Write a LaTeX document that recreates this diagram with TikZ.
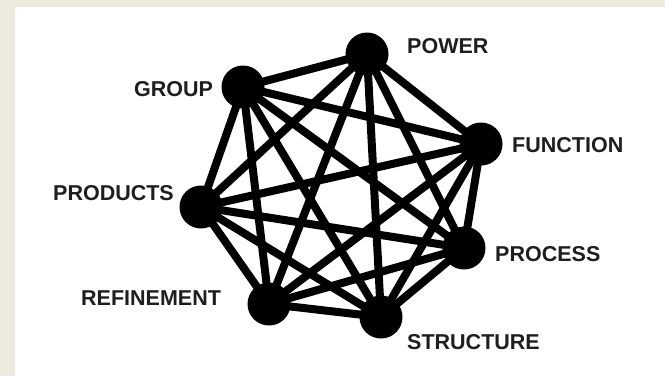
\documentclass[tikz,border=0pt]{standalone}
\usepackage{fontspec}
\setmainfont{Liberation Sans}
\usetikzlibrary{backgrounds}
\definecolor{beige}{HTML}{EDEAE0}
\definecolor{lbl}{HTML}{1E1E1E}
\tikzset{
  vert/.style={circle, fill=black, minimum size=43bp, inner sep=0pt},
  lab/.style={anchor=west, inner sep=0pt, text=lbl, font=\bfseries\fontsize{21.5bp}{25bp}\selectfont},
  link/.style={line width=8bp, black}
}
\begin{document}
\begin{tikzpicture}[x=1bp, y=-1bp]
\useasboundingbox (0,0) rectangle (665,376);
\node[vert] (pow) at (367,54) {};
\node[vert] (grp) at (243,87) {};
\node[vert] (fun) at (481,144) {};
\node[vert] (prd) at (201,207) {};
\node[vert] (prc) at (464,248) {};
\node[vert] (ref) at (269,304) {};
\node[vert] (str) at (381,317) {};
\begin{scope}[on background layer]
\fill[beige] (0,0) rectangle (665,376);
\fill[white] (15,7) rectangle (665,376);
\foreach \a/\b in {pow/grp,pow/fun,pow/prd,pow/prc,pow/ref,pow/str,
  grp/fun,grp/prd,grp/prc,grp/ref,grp/str,
  fun/prd,fun/prc,fun/ref,fun/str,
  prd/prc,prd/ref,prd/str,
  prc/ref,prc/str,
  ref/str}
  \draw[link] (\a.center) -- (\b.center);
\end{scope}
\node[lab] (tpow) at (407,46) {POWER};
\node[lab] (tgrp) at (134,89) {GROUP};
\node[lab] (tfun) at (512,145) {FUNCTION};
\node[lab] (tprd) at (53,193) {PRODUCTS};
\node[lab] (tprc) at (495,254) {PROCESS};
\node[lab] (tref) at (81,298) {REFINEMENT};
\node[lab] (tstr) at (407,342) {STRUCTURE};
\end{tikzpicture}
\end{document}
